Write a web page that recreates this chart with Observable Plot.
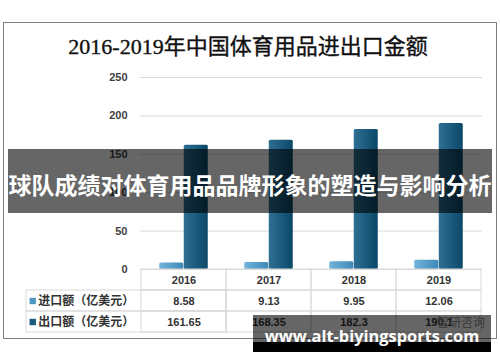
<!DOCTYPE html>
<html><head><meta charset="utf-8">
<script src="https://cdn.jsdelivr.net/npm/d3@7"></script>
<script src="https://cdn.jsdelivr.net/npm/@observablehq/plot@0.6"></script>
<style>
html,body{margin:0;padding:0;background:#fff;}
#wrap{position:relative;width:500px;height:362px;overflow:hidden;background:#fff;font-family:"Liberation Sans",Arial,sans-serif;}
#frame{position:absolute;left:3px;top:22px;width:494px;height:317px;border:1px solid #808080;box-sizing:border-box;}
#title{position:absolute;left:0;top:33px;width:496px;text-align:center;font-family:"Liberation Serif","Noto Sans CJK SC",serif;font-size:22px;line-height:28px;color:#111;-webkit-text-stroke:0.35px #111;}
.abs{position:absolute;left:0;}
#banner{position:absolute;left:8px;top:149px;width:484px;height:64px;background:rgba(0,0,0,0.6);color:#fff;font-family:"Noto Sans CJK SC",sans-serif;font-weight:bold;font-size:23px;line-height:64px;text-align:center;padding-top:3px;box-sizing:border-box;white-space:nowrap;overflow:hidden;}
#wm{position:absolute;left:253px;top:315px;width:238px;height:37px;background:linear-gradient(to bottom,rgba(0,0,0,0.6) 0,rgba(0,0,0,0.6) 27px,#000 27px);}
#wmtext{position:absolute;left:253px;top:324px;width:238px;text-align:center;color:#fff;font-family:"Open Sans",sans-serif;font-weight:bold;font-size:16.4px;line-height:24px;white-space:nowrap;}
#zy{position:absolute;left:437px;top:313px;font-family:"Noto Sans CJK SC",sans-serif;font-size:12px;color:#8a8a8a;}
</style></head>
<body>
<div id="wrap">
  <div id="frame"></div>
  <div id="title"></div>
  <div id="chart" class="abs" style="top:0"></div>
  <div id="table" class="abs" style="top:268px"></div>
  <div id="banner"></div>
  <div id="zy">智研咨询</div>
  <div id="wm"></div>
  <div id="wmtext">www.alt-biyingsports.com</div>
</div>
<script>
const titleText = "2016-2019年中国体育用品进出口金额";
const bannerText = "球队成绩对体育用品品牌形象的塑造与影响分析";
const years = ["2016", "2017", "2018", "2019"];
const seriesNames = ["进口额（亿美元）", "出口额（亿美元）"];
const importValues = [8.58, 9.13, 9.95, 12.06];
const exportValues = [161.65, 168.35, 182.3, 190.1];
const yTicks = [0, 50, 100, 150, 200, 250];
const colors = {import: "#4f97c3", export: "#1c5b7e"};

document.getElementById("title").textContent = titleText;
document.getElementById("banner").textContent = bannerText;

const importData = years.map((y, i) => ({year: y, value: importValues[i]}));
const exportData = years.map((y, i) => ({year: y, value: exportValues[i]}));

const W = 500, ML = 140, MR = 18;
const bw = (W - ML - MR) / years.length;
const barW = 24.5;
const pad = (bw - 2 * barW) / 2;

const chart = Plot.plot({
  width: W, height: 282,
  marginLeft: ML, marginRight: MR, marginTop: 77, marginBottom: 13,
  style: {fontFamily: "'Liberation Sans', Arial, sans-serif", fontSize: "11px", fontWeight: "bold", color: "#404040", background: "transparent"},
  x: {domain: years, padding: 0, axis: null},
  y: {domain: [0, 250], axis: null},
  marks: [
    Plot.gridY(yTicks, {stroke: "#d9d9d9", strokeOpacity: 1}),
    Plot.axisY(yTicks, {tickSize: 0, tickPadding: 13, label: null}),
    Plot.barY(importData, {x: "year", y: "value", fill: "url(#gImp)", insetLeft: pad, insetRight: bw - pad - barW, rx: 1.5}),
    Plot.barY(exportData, {x: "year", y: "value", fill: "url(#gExp)", insetLeft: pad + barW, insetRight: pad, rx: 1.5})
  ]
});
const ns = "http://www.w3.org/2000/svg";
const defs = document.createElementNS(ns, "defs");
defs.innerHTML = `
<linearGradient id="gImp" x1="0" x2="1" y1="0" y2="0">
  <stop offset="0" stop-color="#72b3da"/><stop offset="1" stop-color="#3f89b8"/>
</linearGradient>
<linearGradient id="gExp" x1="0" x2="1" y1="0" y2="0">
  <stop offset="0" stop-color="#2e6f93"/><stop offset="1" stop-color="#0b4868"/>
</linearGradient>`;
chart.insertBefore(defs, chart.firstChild);
document.getElementById("chart").appendChild(chart);

// data table under the chart
const rowKeys = ["year", ...seriesNames];
const headerCells = years.map(y => ({year: y, row: "year", text: y}));
const valueCells = [
  ...years.map((y, i) => ({year: y, row: seriesNames[0], text: String(importValues[i])})),
  ...years.map((y, i) => ({year: y, row: seriesNames[1], text: String(exportValues[i])}))
];
const labelRows = seriesNames.map((s, i) => ({year: years[0], row: s, color: i === 0 ? colors.import : colors.export}));

const table = Plot.plot({
  width: W, height: 65,
  marginLeft: ML, marginRight: MR, marginTop: 1, marginBottom: 1,
  style: {fontFamily: "'Liberation Sans', Arial, sans-serif", fontSize: "11px", fontWeight: "bold", color: "#333", background: "transparent"},
  x: {domain: years, padding: 0, axis: null},
  y: {domain: rowKeys, padding: 0, axis: null},
  marks: [
    Plot.cell(labelRows, {x: "year", y: "row", fill: "none", stroke: "#d9d9d9", insetLeft: -(ML - 25)}),
    Plot.cell([...headerCells, ...valueCells], {x: "year", y: "row", fill: "none", stroke: "#d9d9d9"}),
    Plot.text([...headerCells, ...valueCells], {x: "year", y: "row", text: "text", fill: "#333"}),
    Plot.dot(labelRows, {x: "year", y: "row", symbol: "square", r: 3.6, fill: "color", stroke: null, dx: -(bw / 2 + ML - 31.5)}),
    Plot.text(labelRows, {x: "year", y: "row", text: "row", textAnchor: "start", fill: "#333", dx: -(bw / 2 + ML - 37), fontSize: 12, fontFamily: "'Noto Sans CJK SC', sans-serif"})
  ]
});
document.getElementById("table").appendChild(table);
</script>
</body></html>
